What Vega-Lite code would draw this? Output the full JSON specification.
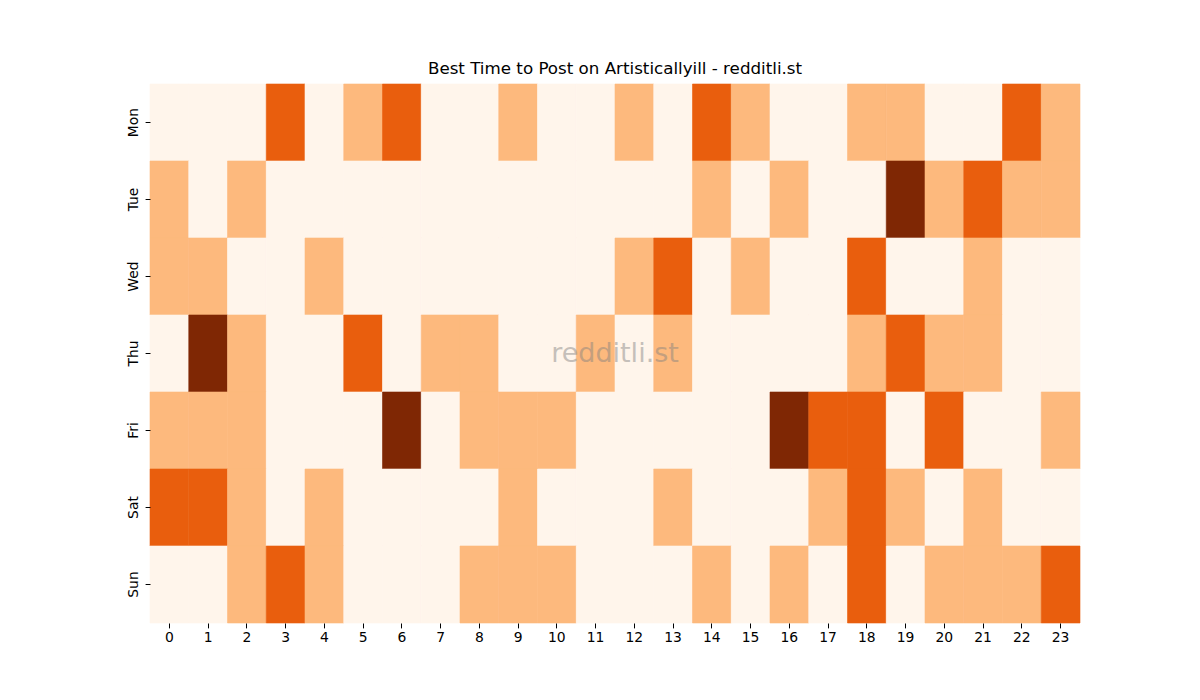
{
  "$schema": "https://vega.github.io/schema/vega-lite/v6.json",
  "autosize": {"type": "none"},
  "padding": {"left": 150, "top": 84, "right": 120, "bottom": 77},
  "width": 930,
  "height": 539,
  "background": "white",
  "title": {
    "text": "Best Time to Post on Artisticallyill - redditli.st",
    "font": "DejaVu Sans",
    "fontSize": 16.7,
    "fontWeight": "normal",
    "color": "black",
    "offset": 6
  },
  "config": {
    "view": {"stroke": null},
    "axis": {
      "labelFont": "DejaVu Sans",
      "labelFontSize": 13.9,
      "labelColor": "black",
      "tickColor": "black",
      "tickSize": 4.9,
      "labelPadding": 3,
      "domain": false,
      "grid": false,
      "title": null
    }
  },
  "data": {
    "values": [
      {"day": "Mon", "hour": 0, "v": 0}, {"day": "Mon", "hour": 1, "v": 0}, {"day": "Mon", "hour": 2, "v": 0}, {"day": "Mon", "hour": 3, "v": 2}, {"day": "Mon", "hour": 4, "v": 0}, {"day": "Mon", "hour": 5, "v": 1}, {"day": "Mon", "hour": 6, "v": 2}, {"day": "Mon", "hour": 7, "v": 0}, {"day": "Mon", "hour": 8, "v": 0}, {"day": "Mon", "hour": 9, "v": 1}, {"day": "Mon", "hour": 10, "v": 0}, {"day": "Mon", "hour": 11, "v": 0}, {"day": "Mon", "hour": 12, "v": 1}, {"day": "Mon", "hour": 13, "v": 0}, {"day": "Mon", "hour": 14, "v": 2}, {"day": "Mon", "hour": 15, "v": 1}, {"day": "Mon", "hour": 16, "v": 0}, {"day": "Mon", "hour": 17, "v": 0}, {"day": "Mon", "hour": 18, "v": 1}, {"day": "Mon", "hour": 19, "v": 1}, {"day": "Mon", "hour": 20, "v": 0}, {"day": "Mon", "hour": 21, "v": 0}, {"day": "Mon", "hour": 22, "v": 2}, {"day": "Mon", "hour": 23, "v": 1},
      {"day": "Tue", "hour": 0, "v": 1}, {"day": "Tue", "hour": 1, "v": 0}, {"day": "Tue", "hour": 2, "v": 1}, {"day": "Tue", "hour": 3, "v": 0}, {"day": "Tue", "hour": 4, "v": 0}, {"day": "Tue", "hour": 5, "v": 0}, {"day": "Tue", "hour": 6, "v": 0}, {"day": "Tue", "hour": 7, "v": 0}, {"day": "Tue", "hour": 8, "v": 0}, {"day": "Tue", "hour": 9, "v": 0}, {"day": "Tue", "hour": 10, "v": 0}, {"day": "Tue", "hour": 11, "v": 0}, {"day": "Tue", "hour": 12, "v": 0}, {"day": "Tue", "hour": 13, "v": 0}, {"day": "Tue", "hour": 14, "v": 1}, {"day": "Tue", "hour": 15, "v": 0}, {"day": "Tue", "hour": 16, "v": 1}, {"day": "Tue", "hour": 17, "v": 0}, {"day": "Tue", "hour": 18, "v": 0}, {"day": "Tue", "hour": 19, "v": 3}, {"day": "Tue", "hour": 20, "v": 1}, {"day": "Tue", "hour": 21, "v": 2}, {"day": "Tue", "hour": 22, "v": 1}, {"day": "Tue", "hour": 23, "v": 1},
      {"day": "Wed", "hour": 0, "v": 1}, {"day": "Wed", "hour": 1, "v": 1}, {"day": "Wed", "hour": 2, "v": 0}, {"day": "Wed", "hour": 3, "v": 0}, {"day": "Wed", "hour": 4, "v": 1}, {"day": "Wed", "hour": 5, "v": 0}, {"day": "Wed", "hour": 6, "v": 0}, {"day": "Wed", "hour": 7, "v": 0}, {"day": "Wed", "hour": 8, "v": 0}, {"day": "Wed", "hour": 9, "v": 0}, {"day": "Wed", "hour": 10, "v": 0}, {"day": "Wed", "hour": 11, "v": 0}, {"day": "Wed", "hour": 12, "v": 1}, {"day": "Wed", "hour": 13, "v": 2}, {"day": "Wed", "hour": 14, "v": 0}, {"day": "Wed", "hour": 15, "v": 1}, {"day": "Wed", "hour": 16, "v": 0}, {"day": "Wed", "hour": 17, "v": 0}, {"day": "Wed", "hour": 18, "v": 2}, {"day": "Wed", "hour": 19, "v": 0}, {"day": "Wed", "hour": 20, "v": 0}, {"day": "Wed", "hour": 21, "v": 1}, {"day": "Wed", "hour": 22, "v": 0}, {"day": "Wed", "hour": 23, "v": 0},
      {"day": "Thu", "hour": 0, "v": 0}, {"day": "Thu", "hour": 1, "v": 3}, {"day": "Thu", "hour": 2, "v": 1}, {"day": "Thu", "hour": 3, "v": 0}, {"day": "Thu", "hour": 4, "v": 0}, {"day": "Thu", "hour": 5, "v": 2}, {"day": "Thu", "hour": 6, "v": 0}, {"day": "Thu", "hour": 7, "v": 1}, {"day": "Thu", "hour": 8, "v": 1}, {"day": "Thu", "hour": 9, "v": 0}, {"day": "Thu", "hour": 10, "v": 0}, {"day": "Thu", "hour": 11, "v": 1}, {"day": "Thu", "hour": 12, "v": 0}, {"day": "Thu", "hour": 13, "v": 1}, {"day": "Thu", "hour": 14, "v": 0}, {"day": "Thu", "hour": 15, "v": 0}, {"day": "Thu", "hour": 16, "v": 0}, {"day": "Thu", "hour": 17, "v": 0}, {"day": "Thu", "hour": 18, "v": 1}, {"day": "Thu", "hour": 19, "v": 2}, {"day": "Thu", "hour": 20, "v": 1}, {"day": "Thu", "hour": 21, "v": 1}, {"day": "Thu", "hour": 22, "v": 0}, {"day": "Thu", "hour": 23, "v": 0},
      {"day": "Fri", "hour": 0, "v": 1}, {"day": "Fri", "hour": 1, "v": 1}, {"day": "Fri", "hour": 2, "v": 1}, {"day": "Fri", "hour": 3, "v": 0}, {"day": "Fri", "hour": 4, "v": 0}, {"day": "Fri", "hour": 5, "v": 0}, {"day": "Fri", "hour": 6, "v": 3}, {"day": "Fri", "hour": 7, "v": 0}, {"day": "Fri", "hour": 8, "v": 1}, {"day": "Fri", "hour": 9, "v": 1}, {"day": "Fri", "hour": 10, "v": 1}, {"day": "Fri", "hour": 11, "v": 0}, {"day": "Fri", "hour": 12, "v": 0}, {"day": "Fri", "hour": 13, "v": 0}, {"day": "Fri", "hour": 14, "v": 0}, {"day": "Fri", "hour": 15, "v": 0}, {"day": "Fri", "hour": 16, "v": 3}, {"day": "Fri", "hour": 17, "v": 2}, {"day": "Fri", "hour": 18, "v": 2}, {"day": "Fri", "hour": 19, "v": 0}, {"day": "Fri", "hour": 20, "v": 2}, {"day": "Fri", "hour": 21, "v": 0}, {"day": "Fri", "hour": 22, "v": 0}, {"day": "Fri", "hour": 23, "v": 1},
      {"day": "Sat", "hour": 0, "v": 2}, {"day": "Sat", "hour": 1, "v": 2}, {"day": "Sat", "hour": 2, "v": 1}, {"day": "Sat", "hour": 3, "v": 0}, {"day": "Sat", "hour": 4, "v": 1}, {"day": "Sat", "hour": 5, "v": 0}, {"day": "Sat", "hour": 6, "v": 0}, {"day": "Sat", "hour": 7, "v": 0}, {"day": "Sat", "hour": 8, "v": 0}, {"day": "Sat", "hour": 9, "v": 1}, {"day": "Sat", "hour": 10, "v": 0}, {"day": "Sat", "hour": 11, "v": 0}, {"day": "Sat", "hour": 12, "v": 0}, {"day": "Sat", "hour": 13, "v": 1}, {"day": "Sat", "hour": 14, "v": 0}, {"day": "Sat", "hour": 15, "v": 0}, {"day": "Sat", "hour": 16, "v": 0}, {"day": "Sat", "hour": 17, "v": 1}, {"day": "Sat", "hour": 18, "v": 2}, {"day": "Sat", "hour": 19, "v": 1}, {"day": "Sat", "hour": 20, "v": 0}, {"day": "Sat", "hour": 21, "v": 1}, {"day": "Sat", "hour": 22, "v": 0}, {"day": "Sat", "hour": 23, "v": 0},
      {"day": "Sun", "hour": 0, "v": 0}, {"day": "Sun", "hour": 1, "v": 0}, {"day": "Sun", "hour": 2, "v": 1}, {"day": "Sun", "hour": 3, "v": 2}, {"day": "Sun", "hour": 4, "v": 1}, {"day": "Sun", "hour": 5, "v": 0}, {"day": "Sun", "hour": 6, "v": 0}, {"day": "Sun", "hour": 7, "v": 0}, {"day": "Sun", "hour": 8, "v": 1}, {"day": "Sun", "hour": 9, "v": 1}, {"day": "Sun", "hour": 10, "v": 1}, {"day": "Sun", "hour": 11, "v": 0}, {"day": "Sun", "hour": 12, "v": 0}, {"day": "Sun", "hour": 13, "v": 0}, {"day": "Sun", "hour": 14, "v": 1}, {"day": "Sun", "hour": 15, "v": 0}, {"day": "Sun", "hour": 16, "v": 1}, {"day": "Sun", "hour": 17, "v": 0}, {"day": "Sun", "hour": 18, "v": 2}, {"day": "Sun", "hour": 19, "v": 0}, {"day": "Sun", "hour": 20, "v": 1}, {"day": "Sun", "hour": 21, "v": 1}, {"day": "Sun", "hour": 22, "v": 1}, {"day": "Sun", "hour": 23, "v": 2}
    ]
  },
  "layer": [
    {
      "mark": {"type": "rect", "strokeWidth": 0.6},
      "encoding": {
        "x": {
          "field": "hour",
          "type": "ordinal",
          "axis": {"labelAngle": 0}
        },
        "y": {
          "field": "day",
          "type": "nominal",
          "sort": ["Mon", "Tue", "Wed", "Thu", "Fri", "Sat", "Sun"],
          "axis": {"labelAngle": 270, "labelAlign": "center", "labelBaseline": "bottom", "labelPadding": 5}
        },
        "fill": {
          "field": "v",
          "type": "ordinal",
          "scale": {
            "domain": [0, 1, 2, 3],
            "range": ["#fff5eb", "#fdb97d", "#e95e0d", "#7f2704"]
          },
          "legend": null
        },
        "stroke": {
          "field": "v",
          "type": "ordinal",
          "scale": {
            "domain": [0, 1, 2, 3],
            "range": ["#fff5eb", "#fdb97d", "#e95e0d", "#7f2704"]
          },
          "legend": null
        }
      }
    },
    {
      "data": {"values": [{"label": "redditli.st"}]},
      "mark": {
        "type": "text",
        "font": "DejaVu Sans",
        "fontSize": 27,
        "color": "#808080",
        "opacity": 0.45,
        "align": "center",
        "baseline": "middle"
      },
      "encoding": {
        "text": {"field": "label"}
      }
    }
  ]
}
